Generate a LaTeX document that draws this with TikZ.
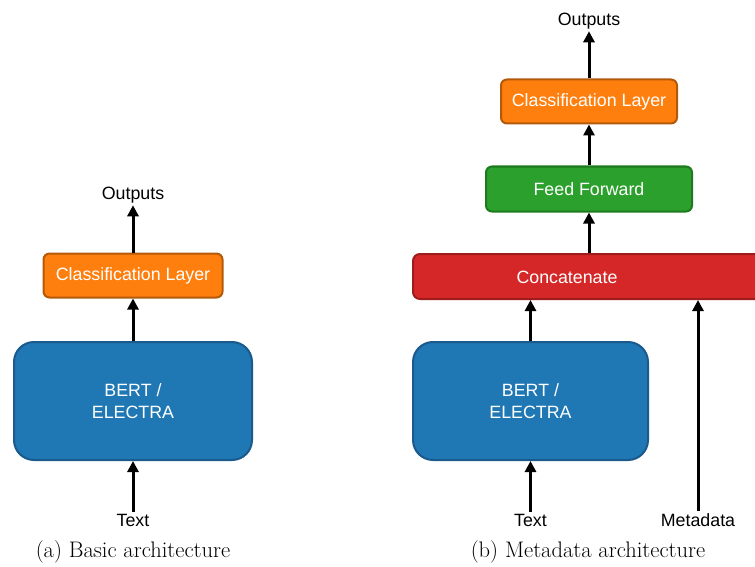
\documentclass[tikz,border=0pt]{standalone}
\usepackage{fontspec}
\setsansfont{Liberation Sans}
\usetikzlibrary{arrows.meta}
\definecolor{cOrange}{HTML}{FF7F0E}
\definecolor{cOrangeB}{HTML}{B35A0A}
\definecolor{cBlue}{HTML}{1F77B4}
\definecolor{cBlueB}{HTML}{1A5A8C}
\definecolor{cGreen}{HTML}{2CA02C}
\definecolor{cGreenB}{HTML}{1E7A1E}
\definecolor{cRed}{HTML}{D62728}
\definecolor{cRedB}{HTML}{9E1C1C}
\tikzset{
  x=1pt, y=-1pt,
  boxbase/.style={draw, line width=2pt, text=white, align=center, inner sep=0pt,
    font=\sffamily\fontsize{17.8}{22}\selectfont},
  orangebox/.style={boxbase, fill=cOrange, draw=cOrangeB, rounded corners=6pt},
  bluebox/.style={boxbase, fill=cBlue, draw=cBlueB, rounded corners=20pt},
  greenbox/.style={boxbase, fill=cGreen, draw=cGreenB, rounded corners=6pt},
  redbox/.style={boxbase, fill=cRed, draw=cRedB, rounded corners=7pt},
  lbl/.style={font=\sffamily\fontsize{17.8}{22}\selectfont, inner sep=2pt},
  wlbl/.style={lbl, text=white},
  captxt/.style={font=\fontsize{22.5}{27}\selectfont, inner sep=0pt},
  arr/.style={line width=3pt, -{Triangle[length=11pt,width=11pt]}},
}
\begin{document}
\begin{tikzpicture}
\useasboundingbox (0,0) rectangle (755,567);
\clip (0,0) rectangle (755,567);
% ---- left: basic architecture
\node[orangebox, minimum width=179pt, minimum height=44pt] (clsA) at (133,275.5) {Classification Layer};
\node[bluebox, minimum width=238pt, minimum height=118pt] (bertA) at (133,401) {BERT /\\ELECTRA};
\node[lbl] (outA) at (133,195) {Outputs};
\node[lbl] (txtA) at (133,520) {Text};
\draw[arr] (clsA.north) -- (outA.south);
\draw[arr] (bertA.north) -- (clsA.south);
\draw[arr] (txtA.north) -- (bertA.south);
\node[captxt] (capA) at (133,552) {(a) Basic architecture};
% ---- right: metadata architecture
\node[orangebox, minimum width=176pt, minimum height=44pt] (clsB) at (589,101.5) {Classification Layer};
\node[greenbox, minimum width=206pt, minimum height=45pt] (ffB) at (589,189) {Feed Forward};
\node[redbox, minimum width=380pt, minimum height=45pt] (catB) at (603,276.5) {};
\node[wlbl] (catT) at (567,277) {Concatenate};
\node[bluebox, minimum width=235pt, minimum height=118pt] (bertB) at (530.5,401) {BERT /\\ELECTRA};
\node[lbl] (outB) at (589,21) {Outputs};
\node[lbl] (txtB) at (530.5,520) {Text};
\node[lbl] (metaB) at (698,520) {Metadata};
\draw[arr] (clsB.north) -- (outB.south);
\draw[arr] (ffB.north) -- (clsB.south);
\draw[arr] (ffB.south |- catB.north) -- (ffB.south);
\draw[arr] (bertB.north) -- (bertB.north |- catB.south);
\draw[arr] (txtB.north) -- (bertB.south);
\draw[arr] (metaB.north) -- (metaB.north |- catB.south);
\node[captxt] (capB) at (588,552) {(b) Metadata architecture};
\end{tikzpicture}
\end{document}
